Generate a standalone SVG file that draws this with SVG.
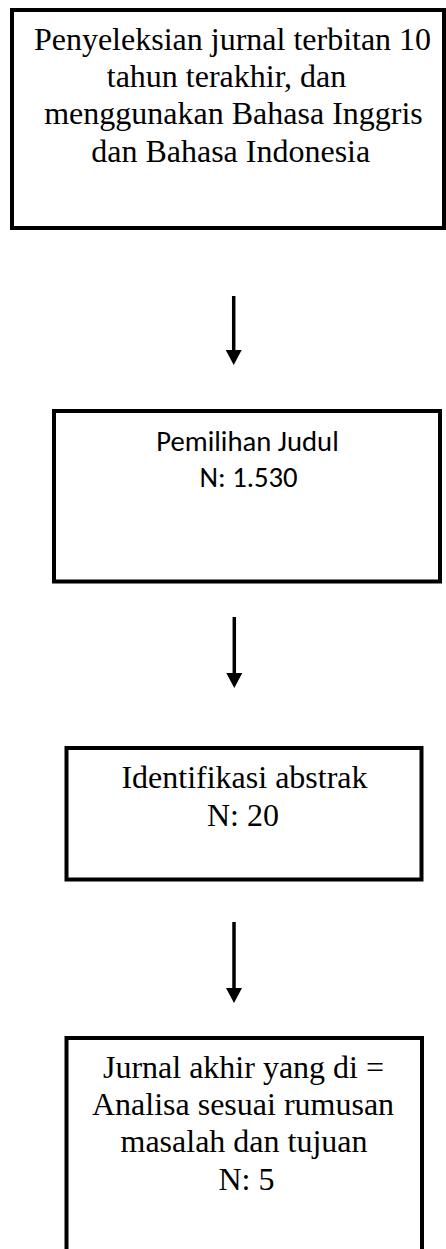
<svg xmlns="http://www.w3.org/2000/svg" width="446" height="1249" viewBox="0 0 446 1249">
  <style>
    .box { fill: #ffffff; stroke: #000000; stroke-width: 4; }
    .serif { font-family: "Liberation Serif", "Times New Roman", serif; font-size: 32px; fill: #000000; text-anchor: middle; }
    .sans { font-family: Carlito, Calibri, Lato, "Noto Sans", sans-serif; font-size: 28.7px; fill: #000000; text-anchor: middle; }
    .conn { stroke: #000000; stroke-width: 3.5; fill: none; }
  </style>
  <defs>
    <marker id="head" markerUnits="userSpaceOnUse" viewBox="0 0 15 16" markerWidth="15" markerHeight="16" refX="2" refY="8" orient="auto">
      <path d="M0,0 L15,8 L0,16 Z" fill="#000000"/>
    </marker>
  </defs>
  <rect width="446" height="1249" fill="#ffffff"/>

  <g id="node1">
    <rect class="box" x="12" y="10" width="432" height="218"/>
    <text class="serif" x="232.5" y="50">Penyeleksian jurnal terbitan 10</text>
    <text class="serif" x="226.5" y="87">tahun terakhir, dan</text>
    <text class="serif" x="233.5" y="124">menggunakan Bahasa Inggris</text>
    <text class="serif" x="230.7" y="161.5">dan Bahasa Indonesia</text>
  </g>

  <g id="node2">
    <rect class="box" x="54" y="411" width="386" height="170.5"/>
    <text class="sans" x="247.5" y="450.5">Pemilihan Judul</text>
    <text class="sans" x="248.5" y="486.5">N: 1.530</text>
  </g>

  <g id="node3">
    <rect class="box" x="66.5" y="748" width="355" height="131.5"/>
    <text class="serif" x="244.5" y="788">Identifikasi abstrak</text>
    <text class="serif" x="243" y="825.5">N: 20</text>
  </g>

  <g id="node4">
    <rect class="box" x="66.5" y="1038" width="355.5" height="400"/>
    <text class="serif" x="243.5" y="1078">Jurnal akhir yang di =</text>
    <text class="serif" x="243" y="1115">Analisa sesuai rumusan</text>
    <text class="serif" x="244" y="1152">masalah dan tujuan</text>
    <text class="serif" x="246.5" y="1189.5">N: 5</text>
  </g>

  <g id="connectors">
    <line class="conn" x1="233.7" y1="296" x2="233.7" y2="352" marker-end="url(#head)"/>
    <line class="conn" x1="234.3" y1="617" x2="234.3" y2="675" marker-end="url(#head)"/>
    <line class="conn" x1="234" y1="922" x2="234" y2="990" marker-end="url(#head)"/>
  </g>
</svg>
